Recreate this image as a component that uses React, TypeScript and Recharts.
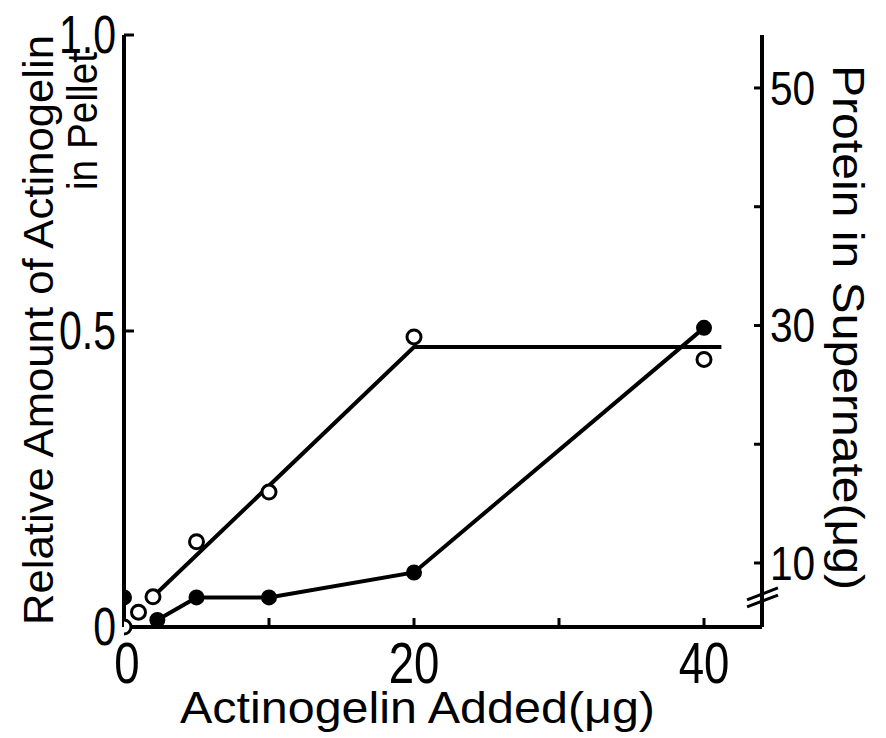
import React from "react";
import { ComposedChart, XAxis, YAxis, Line, Scatter, ReferenceLine } from "recharts";

// open circles: relative amount in pellet (left axis)
const addedOpen = [0, 1, 2, 5, 10, 20, 40];
const pelletAmount = [0, 0.025, 0.051, 0.144, 0.228, 0.49, 0.452];
// filled circles: protein in supernate (right axis)
const addedFilled = [0, 2.3, 5, 10, 20, 40];
const supernateProtein = [7.1, 5.2, 7.1, 7.1, 9.2, 29.8];
// drawn fit line for the pellet curve
const pelletFitX = [2, 20, 41.2];
const pelletFitY = [0.051, 0.473, 0.473];

const xTicks = [0, 10, 20, 30, 40];
const xLabels = [0, 20, 40];
const leftTicks = [0, 0.5, 1];
const leftLabels = ["0", "0.5", "1.0"];
const rightTicks = [10, 20, 30, 40, 50];
const rightLabels = [10, 30, 50];

const FONT = "'Liberation Sans', Arial, sans-serif";

const openData = addedOpen.map((x, i) => ({ x, y: pelletAmount[i] }));
const filledData = addedFilled.map((x, i) => ({ x, y: supernateProtein[i] }));
const filledLine = filledData.slice(1);
const fitData = pelletFitX.map((x, i) => ({ x, y: pelletFitY[i] }));

const XTick = (props: any) => {
  const { x, y, payload } = props;
  const v = payload.value;
  return (
    <g>
      {v !== 0 && <line x1={x} x2={x} y1={y} y2={y - 9} stroke="#000" strokeWidth={3} />}
      {xLabels.includes(v) && (
        <text transform={`translate(${x + (v === 0 ? 3 : 0)},${y + 56}) scale(0.8,1)`} textAnchor="middle"
          fontSize={57} fontFamily={FONT} fill="#000">{v}</text>
      )}
    </g>
  );
};

const LeftTick = (props: any) => {
  const { x, y, payload } = props;
  const i = leftTicks.indexOf(payload.value);
  return (
    <g>
      {payload.value !== 0 && <line x1={x} x2={x + 10} y1={y} y2={y} stroke="#000" strokeWidth={3} />}
      <text transform={`translate(${x - 8},${y + 18}) scale(0.76,1)`} textAnchor="end"
        fontSize={54} fontFamily={FONT} fill="#000">{leftLabels[i]}</text>
    </g>
  );
};

const RightTick = (props: any) => {
  const { x, y, payload } = props;
  const v = payload.value;
  return (
    <g>
      <line x1={x} x2={x - 8} y1={y} y2={y} stroke="#000" strokeWidth={3} />
      {rightLabels.includes(v) && (
        <text transform={`translate(${x + 8},${y + 17}) scale(0.83,1)`} textAnchor="start"
          fontSize={49} fontFamily={FONT} fill="#000">{v}</text>
      )}
    </g>
  );
};

const OpenDot = (props: any) => (
  <circle cx={props.cx} cy={props.cy} r={7} fill="#fff" stroke="#000" strokeWidth={3} />
);
const FilledDot = (props: any) => (
  <circle cx={props.cx} cy={props.cy} r={7} fill="#000" stroke="#000" strokeWidth={2} />
);

export default function App() {
  return (
    <div style={{ position: "absolute", left: 0, top: 0, width: 886, height: 738, background: "#fff" }}>
      <ComposedChart width={886} height={738} margin={{ top: 35, right: 0, bottom: 0, left: 0 }}>
        <XAxis xAxisId="x" type="number" dataKey="x" domain={[0, 44]} ticks={xTicks} height={111}
          axisLine={{ stroke: "#000", strokeWidth: 4 }} tickLine={false} tickSize={0} tickMargin={0}
          tick={<XTick />} interval={0} allowDataOverflow />
        <YAxis yAxisId="left" type="number" domain={[0, 1]} ticks={leftTicks} width={124}
          axisLine={{ stroke: "#000", strokeWidth: 4 }} tickLine={false} tickSize={0} tickMargin={0}
          tick={<LeftTick />} interval={0} />
        <YAxis yAxisId="right" orientation="right" type="number" domain={[4.61, 54.46]} ticks={rightTicks}
          width={124} axisLine={{ stroke: "#000", strokeWidth: 4 }} tickLine={false} tickSize={0}
          tickMargin={0} tick={<RightTick />} interval={0} allowDataOverflow />
        <Line xAxisId="x" yAxisId="left" data={fitData} dataKey="y" type="linear" stroke="#000"
          strokeWidth={4} dot={false} isAnimationActive={false} />
        <Line xAxisId="x" yAxisId="right" data={filledLine} dataKey="y" type="linear" stroke="#000"
          strokeWidth={4} dot={false} isAnimationActive={false} />
        <Scatter xAxisId="x" yAxisId="left" data={openData} dataKey="y" shape={<OpenDot />}
          isAnimationActive={false} />
        <Scatter xAxisId="x" yAxisId="right" data={filledData} dataKey="y" shape={<FilledDot />}
          isAnimationActive={false} />
        <ReferenceLine xAxisId="x" yAxisId="right" ifOverflow="visible" stroke="#000" strokeWidth={3}
          segment={[{ x: 42.97, y: 6.9 }, { x: 45.1, y: 7.9 }]} />
        <ReferenceLine xAxisId="x" yAxisId="right" ifOverflow="visible" stroke="#000" strokeWidth={3}
          segment={[{ x: 42.97, y: 6.3 }, { x: 45.1, y: 7.3 }]} />
      </ComposedChart>
      <svg width={886} height={738} style={{ position: "absolute", left: 0, top: 0, pointerEvents: "none" }}>
        <text transform="translate(53,625) rotate(-90)" fontSize={42} fontFamily={FONT} fill="#000"
          textLength={590} lengthAdjust="spacingAndGlyphs">Relative Amount of Actinogelin</text>
        <text transform="translate(97,190) rotate(-90)" fontSize={42} fontFamily={FONT}
          fill="#000" textLength={138} lengthAdjust="spacingAndGlyphs">in Pellet</text>
        <text transform="translate(833,65) rotate(90)" fontSize={45} fontFamily={FONT} fill="#000"
          textLength={525} lengthAdjust="spacingAndGlyphs">Protein in Supernate(μg)</text>
        <text x={180} y={723} fontSize={44} fontFamily={FONT} fill="#000" textLength={475}
          lengthAdjust="spacingAndGlyphs">Actinogelin Added(μg)</text>
      </svg>
    </div>
  );
}
